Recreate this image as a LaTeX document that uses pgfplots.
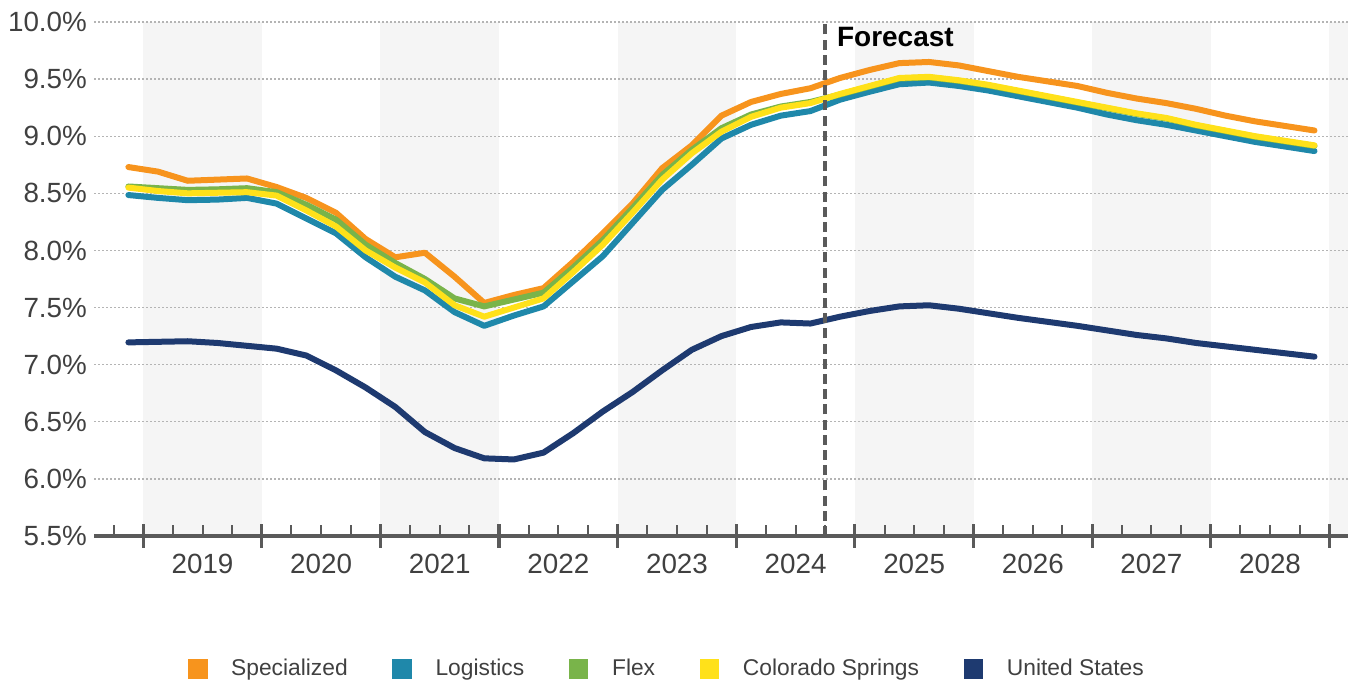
\documentclass[border=0pt]{standalone}
\usepackage{pgfplots}
\usepackage{pgfplotstable}
\pgfplotsset{compat=1.18}
\usepackage{fontspec}
\setmainfont{Liberation Sans}

\definecolor{specorange}{HTML}{F7941D}
\definecolor{logteal}{HTML}{1F88AA}
\definecolor{flexgreen}{HTML}{79B44A}
\definecolor{cosyellow}{HTML}{FFE11A}
\definecolor{usnavy}{HTML}{1E3A70}
\definecolor{bandgray}{HTML}{F5F5F5}
\definecolor{textgray}{HTML}{404040}
\definecolor{axisgray}{HTML}{5A5A5A}
\definecolor{gridgray}{HTML}{B4B4B4}

% Quarterly vacancy rates (%), 2018 Q4 - 2028 Q4.
% q = quarter position, 2019 Q1 starts at 0; points sit mid-quarter.
\pgfplotstableread{
q     S     L      F      C      U
-0.5  8.73  8.485  8.56   8.55   7.195
0.5   8.69  8.46   8.545  8.52   7.20
1.5   8.61  8.44   8.53   8.50   7.205
2.5   8.62  8.445  8.535  8.505  7.19
3.5   8.63  8.46   8.545  8.51   7.165
4.5   8.555 8.41   8.51   8.48   7.14
5.5   8.46  8.28   8.40   8.35   7.08
6.5   8.33  8.15   8.27   8.21   6.95
7.5   8.10  7.94   8.05   8.00   6.80
8.5   7.94  7.77   7.89   7.85   6.63
9.5   7.98  7.65   7.75   7.72   6.41
10.5  7.77  7.46   7.58   7.52   6.27
11.5  7.54  7.34   7.51   7.42   6.18
12.5  7.61  7.43   7.57   7.50   6.17
13.5  7.67  7.51   7.63   7.58   6.23
14.5  7.90  7.73   7.85   7.81   6.40
15.5  8.15  7.95   8.09   8.05   6.59
16.5  8.41  8.24   8.37   8.33   6.76
17.5  8.72  8.53   8.66   8.62   6.95
18.5  8.92  8.75   8.88   8.85   7.13
19.5  9.18  8.98   9.07   9.04   7.25
20.5  9.30  9.10   9.19   9.17   7.33
21.5  9.37  9.18   9.26   9.25   7.37
22.5  9.42  9.22   9.30   9.29   7.36
23.5  9.51  9.32   9.365  9.37   7.42
24.5  9.58  9.39   9.435  9.44   7.47
25.5  9.64  9.455  9.505  9.51   7.51
26.5  9.65  9.47   9.515  9.52   7.52
27.5  9.62  9.44   9.485  9.49   7.49
28.5  9.57  9.40   9.445  9.45   7.45
29.5  9.52  9.35   9.395  9.40   7.41
30.5  9.48  9.30   9.345  9.35   7.375
31.5  9.44  9.25   9.295  9.30   7.34
32.5  9.38  9.19   9.245  9.25   7.30
33.5  9.33  9.14   9.195  9.20   7.26
34.5  9.29  9.10   9.155  9.16   7.23
35.5  9.24  9.05   9.095  9.10   7.19
36.5  9.18  9.00   9.045  9.05   7.16
37.5  9.13  8.95   8.995  9.00   7.13
38.5  9.09  8.91   8.955  8.96   7.10
39.5  9.05  8.87   8.915  8.92   7.07
}\ratedata

\begin{document}
\begin{tikzpicture}
\begin{axis}[
  at={(0,0)}, anchor=south west,
  scale only axis,
  width=626.85pt, height=257pt,
  set layers,
  xmin=-1.65, xmax=40.63,
  ymin=5.5, ymax=10,
  axis lines*=left,
  y axis line style={draw=none},
  x axis line style={-, draw=axisgray, line width=1.8pt},
  ytick={5.5,6,...,10},
  yticklabels={5.5\%,6.0\%,6.5\%,7.0\%,7.5\%,8.0\%,8.5\%,9.0\%,9.5\%,10.0\%},
  xtick={2,6,...,38},
  xticklabels={2019,2020,2021,2022,2023,2024,2025,2026,2027,2028},
  major tick length=0pt,
  minor xtick={-1,0,...,40},
  minor tick length=5.5pt,
  tick align=inside,
  minor tick style={draw=axisgray, line width=1pt},
  extra x ticks={0,4,...,40},
  extra x tick labels={},
  extra x tick style={major tick length=12pt, tick align=center,
    major tick style={draw=axisgray, line width=1.6pt}},
  ymajorgrids,
  grid style={draw=gridgray, line width=0.7pt, dash pattern=on 0.7pt off 1.3pt},
  /pgf/number format/assume math mode=true,
  tick label style={font=\fontsize{13.9}{16}\selectfont, text=textgray},
  yticklabel style={inner sep=0pt, xshift=-3.5pt},
  xticklabel style={anchor=base, inner sep=0pt, yshift=-19pt},
  legend columns=5,
  legend style={at={(0.0747,-0.2588)}, anchor=west, draw=none, fill=none,
    inner sep=0pt, outer sep=0pt,
    font=\fontsize{11.4}{13}\selectfont, text=textgray,
    /tikz/every odd column/.append style={column sep=9.8pt},
    /tikz/every even column/.append style={column sep=20.3pt}},
  legend image code/.code={\fill[#1, draw=none] (0pt,-4.9pt) rectangle (9.8pt,4.9pt);},
  every axis plot/.append style={line width=3pt, line join=round, line cap=round},
]
% alternating year bands
\addplot[fill=bandgray, draw=none, line width=0pt, forget plot, on layer=axis background] coordinates {(0,5.5) (0,10) (4,10) (4,5.5)} -- cycle;
\addplot[fill=bandgray, draw=none, line width=0pt, forget plot, on layer=axis background] coordinates {(8,5.5) (8,10) (12,10) (12,5.5)} -- cycle;
\addplot[fill=bandgray, draw=none, line width=0pt, forget plot, on layer=axis background] coordinates {(16,5.5) (16,10) (20,10) (20,5.5)} -- cycle;
\addplot[fill=bandgray, draw=none, line width=0pt, forget plot, on layer=axis background] coordinates {(24,5.5) (24,10) (28,10) (28,5.5)} -- cycle;
\addplot[fill=bandgray, draw=none, line width=0pt, forget plot, on layer=axis background] coordinates {(32,5.5) (32,10) (36,10) (36,5.5)} -- cycle;
\addplot[fill=bandgray, draw=none, line width=0pt, forget plot, on layer=axis background] coordinates {(40,5.5) (40,10) (40.63,10) (40.63,5.5)} -- cycle;

\addplot[color=specorange] table[x=q, y=S] {\ratedata};
\addlegendentry{Specialized}
\addplot[color=logteal] table[x=q, y=L] {\ratedata};
\addlegendentry{Logistics}
\addplot[color=flexgreen] table[x=q, y=F] {\ratedata};
\addlegendentry{Flex}
\addplot[color=cosyellow] table[x=q, y=C] {\ratedata};
\addlegendentry{Colorado Springs}
\addplot[color=usnavy] table[x=q, y=U] {\ratedata};
\addlegendentry{United States}

% start of the forecast period
\addplot[forget plot, draw=axisgray, line width=2pt, line cap=butt, dash pattern=on 5pt off 2.6pt] coordinates {(23,5.5) (23,10)};
\node[anchor=base west, inner sep=0pt, xshift=5.7pt, font=\bfseries\fontsize{14}{16}\selectfont] at (axis cs:23,9.784) {Forecast};
\end{axis}
\pgfresetboundingbox
\useasboundingbox (-47.15pt,-74pt) rectangle (630.35pt,268pt);
\end{tikzpicture}
\end{document}
